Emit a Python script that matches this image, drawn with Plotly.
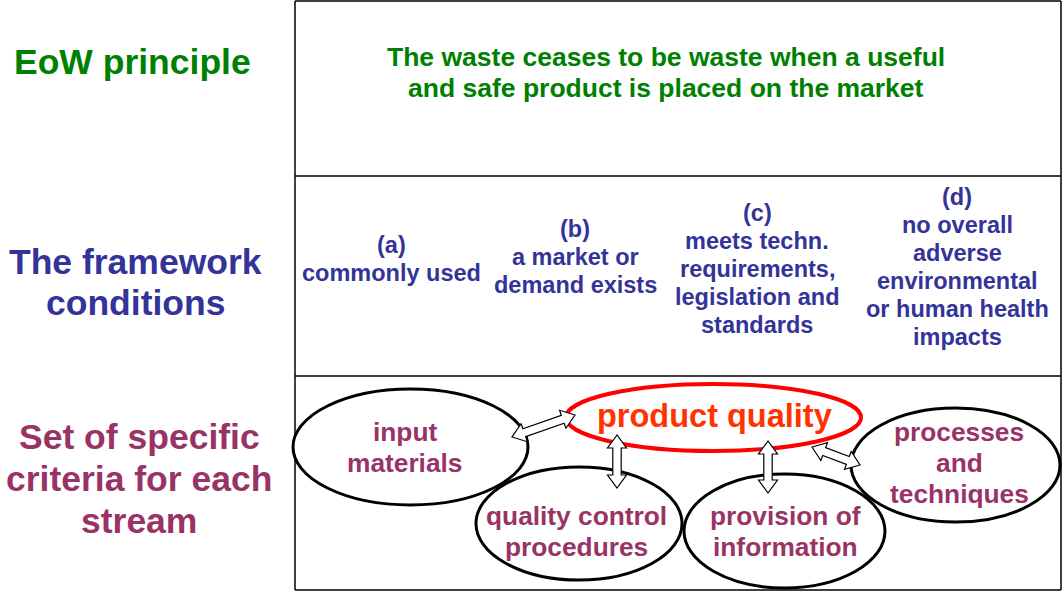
import math
import plotly.graph_objects as go

# ---- content ----
row_titles = [["EoW principle"], ["The framework", "conditions"], ["Set of specific", "criteria for each", "stream"]]
row_colors = ["#008000", "#333399", "#993366"]
principle_lines = ["The waste ceases to be waste when a useful", "and safe product is placed on the market"]
conditions = [
    ["(a)", "commonly used"],
    ["(b)", "a market or", "demand exists"],
    ["(c)", "meets techn.", "requirements,", "legislation and", "standards"],
    ["(d)", "no overall", "adverse", "environmental", "or human health", "impacts"],
]
criteria = [
    ["input", "materials"],
    ["product quality"],
    ["quality control", "procedures"],
    ["provision of", "information"],
    ["processes", "and", "techniques"],
]

# ---- layout geometry (pixel space) ----
W, H = 1062, 592
FONT = "Liberation Sans, Arial, sans-serif"
table_x = [295, 1061]
table_y = [1, 176, 376, 590]
title_cx = [132, 135, 139]
title_cy = [[62], [262, 303], [437, 479, 521]]
principle_cx = 666
principle_cy = [57, 88]
cond_cx = [391, 575, 757, 957]
cond_top = [245, 229, 213, 197]
cond_step = 28
ellipses = [  # x0, x1, y0, y1
    (293, 528, 389, 505),
    (566, 861, 384, 451),
    (476, 682, 467, 580),
    (684, 885, 474, 588),
    (851, 1060, 408, 522),
]
ell_text_cy = [[432, 463], [416], [516, 547], [516, 547], [432, 463, 494]]
ell_text_cx = [405, 714, 576, 785, 959]
arrows = [((512, 437), (575, 415)), ((617, 435), (617, 488)), ((768, 441), (768, 493)), ((812, 447), (860, 465))]

fig = go.Figure()
fig.add_trace(go.Scatter(x=[0, W], y=[0, H], mode="markers", marker=dict(opacity=0), hoverinfo="skip", showlegend=False))

shapes = []
# table
for y in table_y:
    shapes.append(dict(type="line", x0=table_x[0], x1=table_x[1], y0=y, y1=y, line=dict(color="black", width=1.5)))
for x in table_x:
    shapes.append(dict(type="line", x0=x, x1=x, y0=table_y[0], y1=table_y[-1], line=dict(color="black", width=1.5)))

# ellipses
for i, (x0, x1, y0, y1) in enumerate(ellipses):
    red = i == 1
    shapes.append(dict(type="circle", x0=x0, x1=x1, y0=y0, y1=y1, fillcolor="white",
                       line=dict(color="#FF0000" if red else "black", width=4 if red else 3)))

# arrows
def arrow_path(p0, p1, w=4.2, hw=9.5, hl=13):
    dx, dy = p1[0] - p0[0], p1[1] - p0[1]
    L = math.hypot(dx, dy)
    ux, uy = dx / L, dy / L
    nx, ny = -uy, ux
    def pt(base, a, b):
        return (base[0] + ux * a + nx * b, base[1] + uy * a + ny * b)
    pts = [p0, pt(p0, hl, hw), pt(p0, hl, w), pt(p1, -hl, w), pt(p1, -hl, hw), p1,
           pt(p1, -hl, -hw), pt(p1, -hl, -w), pt(p0, hl, -w), pt(p0, hl, -hw)]
    return "M " + " L ".join(f"{x:.1f},{y:.1f}" for x, y in pts) + " Z"

for p0, p1 in arrows:
    shapes.append(dict(type="path", path=arrow_path(p0, p1), fillcolor="white", line=dict(color="black", width=1.2)))

anns = []
def txt(x, y, s, color, size):
    anns.append(dict(x=x, y=y, text=s, showarrow=False, xanchor="center", yanchor="middle",
                     font=dict(family=FONT, size=size, color=color)))

for i, lines in enumerate(row_titles):
    for s, y in zip(lines, title_cy[i]):
        txt(title_cx[i], y, f"<b>{s}</b>", row_colors[i], 35.5)
for s, y in zip(principle_lines, principle_cy):
    txt(principle_cx, y, f"<b>{s}</b>", "#008000", 26.5)
for i, lines in enumerate(conditions):
    for j, s in enumerate(lines):
        txt(cond_cx[i], cond_top[i] + j * cond_step, f"<b>{s}</b>", "#333399", 23.5)
for i, lines in enumerate(criteria):
    for s, y in zip(lines, ell_text_cy[i]):
        if i == 1:
            txt(ell_text_cx[i], y, f"<b>{s}</b>", "#FF3300", 32.5)
        else:
            txt(ell_text_cx[i], y, f"<b>{s}</b>", "#993366", 26.3)

fig.update_layout(
    width=W, height=H, margin=dict(l=0, r=0, t=0, b=0),
    paper_bgcolor="white", plot_bgcolor="white",
    xaxis=dict(range=[0, W], visible=False, fixedrange=True),
    yaxis=dict(range=[H, 0], visible=False, fixedrange=True),
    shapes=shapes, annotations=anns, showlegend=False,
)
fig.write_html("out.html", config={"displayModeBar": False},
               post_script="document.body.style.margin='0';document.body.style.overflow='hidden';")
